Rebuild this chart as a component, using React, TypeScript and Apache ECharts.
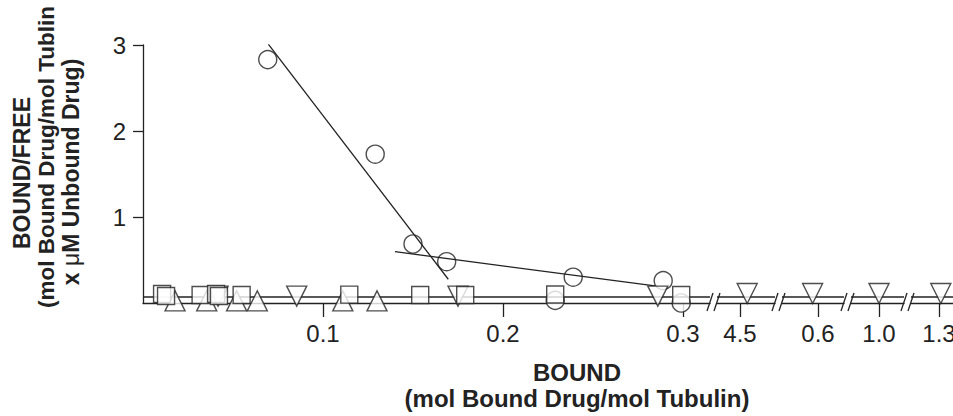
import React, { useEffect, useRef } from "react";
import * as echarts from "echarts";

// ---- data ----
const mainTicks = [0.1, 0.2, 0.3];
const mainTickLabels = ["0.1", "0.2", "0.3"];
const breakTicks = [4.5, 0.6, 1.0, 1.3];
const breakTickLabels = ["4.5", "0.6", "1.0", "1.3"];
const yTicks = [1, 2, 3];
const yTickLabels = ["1", "2", "3"];

const circles = [
  [0.0693, 2.83],
  [0.129, 1.73],
  [0.15, 0.686],
  [0.1687, 0.48],
  [0.239, 0.3],
  [0.289, 0.26],
  [0.229, 0.03],
  [0.299, 0.0],
];
const squares = [
  [0.0106, 0.105],
  [0.0128, 0.081],
  [0.032, 0.093],
  [0.0406, 0.105],
  [0.0422, 0.081],
  [0.0548, 0.093],
  [0.1146, 0.097],
  [0.154, 0.093],
  [0.179, 0.093],
  [0.229, 0.099],
  [0.299, 0.093],
];
const upTriangles = [
  [0.0178, 0.025],
  [0.0354, 0.025],
  [0.052, 0.025],
  [0.0635, 0.025],
  [0.111, 0.025],
  [0.13, 0.025],
];
const downTriangles = [
  [0.0417, 0.08],
  [0.0854, 0.08],
  [0.175, 0.08],
  [0.286, 0.08],
];
// one down-triangle in each broken axis segment
const downTrianglesBroken = [
  [4.504, 0.11],
  [0.597, 0.11],
  [1.0, 0.11],
  [1.301, 0.11],
];
const steepFit = [
  [0.0696, 3.01],
  [0.1696, 0.276],
];
const shallowFit = [
  [0.14, 0.597],
  [0.2844, 0.198],
];
const flatFitY = 0.07;

// ---- layout ----
const PX_PER_UNIT = 1800;
const GRID_TOP = 45;
const GRID_HEIGHT = 258;
const AXIS_Y = GRID_TOP + GRID_HEIGHT;
const FONT = '"Liberation Sans", Arial, Helvetica, sans-serif';
const INK = "#222";

const segments = [
  { left: 143, right: 710, anchorPx: 143 },
  { left: 717, right: 775, anchorPx: 740 },
  { left: 782, right: 844, anchorPx: 818 },
  { left: 851, right: 904, anchorPx: 879 },
  { left: 911, right: 962, anchorPx: 939 },
];

function segRange(i: number) {
  const s = segments[i];
  const anchor = i === 0 ? 0 : breakTicks[i - 1];
  return {
    min: anchor - (s.anchorPx - s.left) / PX_PER_UNIT,
    max: anchor + (s.right - s.anchorPx) / PX_PER_UNIT,
  };
}

export default function App() {
  const ref = useRef<HTMLDivElement>(null);

  useEffect(() => {
    if (!ref.current) return;
    const chart = echarts.init(ref.current, undefined, { renderer: "svg" });

    const axisLineStyle = { color: INK, width: 1.3 };

    const grid = segments.map((s) => ({
      left: s.left,
      top: GRID_TOP,
      width: s.right - s.left,
      height: GRID_HEIGHT,
      containLabel: false,
      outerBoundsMode: "none",
    }));

    const xAxis = segments.map((s, i) => {
      const r = segRange(i);
      const ticks = i === 0 ? mainTicks : [breakTicks[i - 1]];
      const labels = i === 0 ? mainTickLabels : [breakTickLabels[i - 1]];
      return {
        type: "value",
        gridIndex: i,
        min: r.min,
        max: r.max,
        axisLine: { show: true, onZero: false, lineStyle: axisLineStyle },
        axisTick: {
          show: true,
          length: 14,
          customValues: ticks,
          lineStyle: axisLineStyle,
        },
        axisLabel: {
          show: true,
          customValues: ticks,
          margin: 18,
          fontSize: 24,
          fontFamily: FONT,
          color: INK,
          formatter: (v: number) => {
            const k = ticks.findIndex((t) => Math.abs(t - v) < 1e-9);
            return k >= 0 ? labels[k] : "";
          },
        },
        splitLine: { show: false },
      };
    });

    const yAxis = segments.map((s, i) => ({
      type: "value",
      gridIndex: i,
      min: 0,
      max: 3,
      show: i === 0,
      axisLine: { show: true, lineStyle: axisLineStyle },
      axisTick: {
        show: true,
        length: 10,
        customValues: yTicks,
        lineStyle: axisLineStyle,
      },
      axisLabel: {
        show: true,
        customValues: yTicks,
        margin: 17,
        fontSize: 24,
        fontFamily: FONT,
        color: INK,
        formatter: (v: number) => {
          const k = yTicks.findIndex((t) => Math.abs(t - v) < 1e-9);
          return k >= 0 ? yTickLabels[k] : "";
        },
      },
      splitLine: { show: false },
    }));

    const symStyle = { color: "#fff", borderColor: INK, borderWidth: 1.4 };
    const fitStyle = { color: INK, width: 1.3 };

    const series: any[] = [
      {
        type: "scatter",
        xAxisIndex: 0,
        yAxisIndex: 0,
        data: circles,
        symbol: "circle",
        symbolSize: 18,
        itemStyle: symStyle,
        z: 2,
      },
      {
        type: "line",
        xAxisIndex: 0,
        yAxisIndex: 0,
        data: steepFit,
        symbol: "none",
        lineStyle: fitStyle,
        z: 3,
      },
      {
        type: "line",
        xAxisIndex: 0,
        yAxisIndex: 0,
        data: shallowFit,
        symbol: "none",
        lineStyle: fitStyle,
        z: 3,
      },
    ];

    segments.forEach((s, i) => {
      const r = segRange(i);
      series.push({
        type: "line",
        xAxisIndex: i,
        yAxisIndex: i,
        data: [
          [r.min, flatFitY],
          [r.max, flatFitY],
        ],
        symbol: "none",
        lineStyle: fitStyle,
        z: 3,
      });
    });

    series.push(
      {
        type: "scatter",
        xAxisIndex: 0,
        yAxisIndex: 0,
        data: upTriangles,
        symbol: "triangle",
        symbolSize: 20,
        itemStyle: symStyle,
        z: 4,
      },
      {
        type: "scatter",
        xAxisIndex: 0,
        yAxisIndex: 0,
        data: downTriangles,
        symbol: "triangle",
        symbolRotate: 180,
        symbolSize: 20,
        itemStyle: symStyle,
        z: 4,
      }
    );

    downTrianglesBroken.forEach((p, k) => {
      series.push({
        type: "scatter",
        xAxisIndex: k + 1,
        yAxisIndex: k + 1,
        data: [p],
        symbol: "triangle",
        symbolRotate: 180,
        symbolSize: 20,
        itemStyle: symStyle,
        z: 4,
      });
    });

    series.push({
      type: "scatter",
      xAxisIndex: 0,
      yAxisIndex: 0,
      data: squares,
      symbol: "rect",
      symbolSize: 17,
      itemStyle: symStyle,
      z: 5,
    });

    // break marks "//" at every segment end
    const breakPx: number[] = [];
    segments.forEach((s, i) => {
      if (i > 0) breakPx.push(s.left);
      if (i < segments.length - 1) breakPx.push(s.right);
    });
    const slashes = breakPx.map((x) => ({
      type: "line",
      shape: { x1: x - 3, y1: AXIS_Y + 8, x2: x + 3, y2: AXIS_Y - 10 },
      style: { stroke: INK, lineWidth: 1.3 },
      z: 10,
    }));

    const titleFont = (size: number) => `bold ${size}px ${FONT}`;
    const yTitle: any[] = [
      { x: 22, y: 173, text: "BOUND/FREE", size: 23 },
      { x: 46, y: 157, text: "(mol Bound Drug/mol Tublin", size: 22.5 },
    ].map((t) => ({
      type: "text",
      x: t.x,
      y: t.y,
      rotation: Math.PI / 2,
      style: {
        text: t.text,
        font: titleFont(t.size),
        fill: INK,
        textAlign: "center",
        textVerticalAlign: "middle",
      },
    }));
    yTitle.push({
      type: "text",
      x: 71,
      y: 172,
      rotation: Math.PI / 2,
      style: {
        text: "{a|x }{b|μ}{a|M Unbound Drug)}",
        font: titleFont(23),
        fill: INK,
        textAlign: "center",
        textVerticalAlign: "middle",
        rich: {
          a: { fontSize: 23, fontWeight: "bold", fontFamily: FONT, fill: INK },
          b: { fontSize: 23, fontWeight: "normal", fontFamily: FONT, fill: INK },
        },
      },
    });

    const xTitle = [
      { y: 372, text: "BOUND" },
      { y: 398, text: "(mol Bound Drug/mol Tubulin)" },
    ].map((t) => ({
      type: "text",
      x: 577,
      y: t.y,
      style: {
        text: t.text,
        font: titleFont(24),
        fill: INK,
        textAlign: "center",
        textVerticalAlign: "middle",
      },
    }));

    chart.setOption({
      animation: false,
      backgroundColor: "#fff",
      grid,
      xAxis,
      yAxis,
      series,
      graphic: [...slashes, ...yTitle, ...xTitle],
    } as any);

    return () => chart.dispose();
  }, []);

  return (
    <div
      ref={ref}
      style={{ position: "fixed", left: 0, top: 0, width: 953, height: 416 }}
    />
  );
}
